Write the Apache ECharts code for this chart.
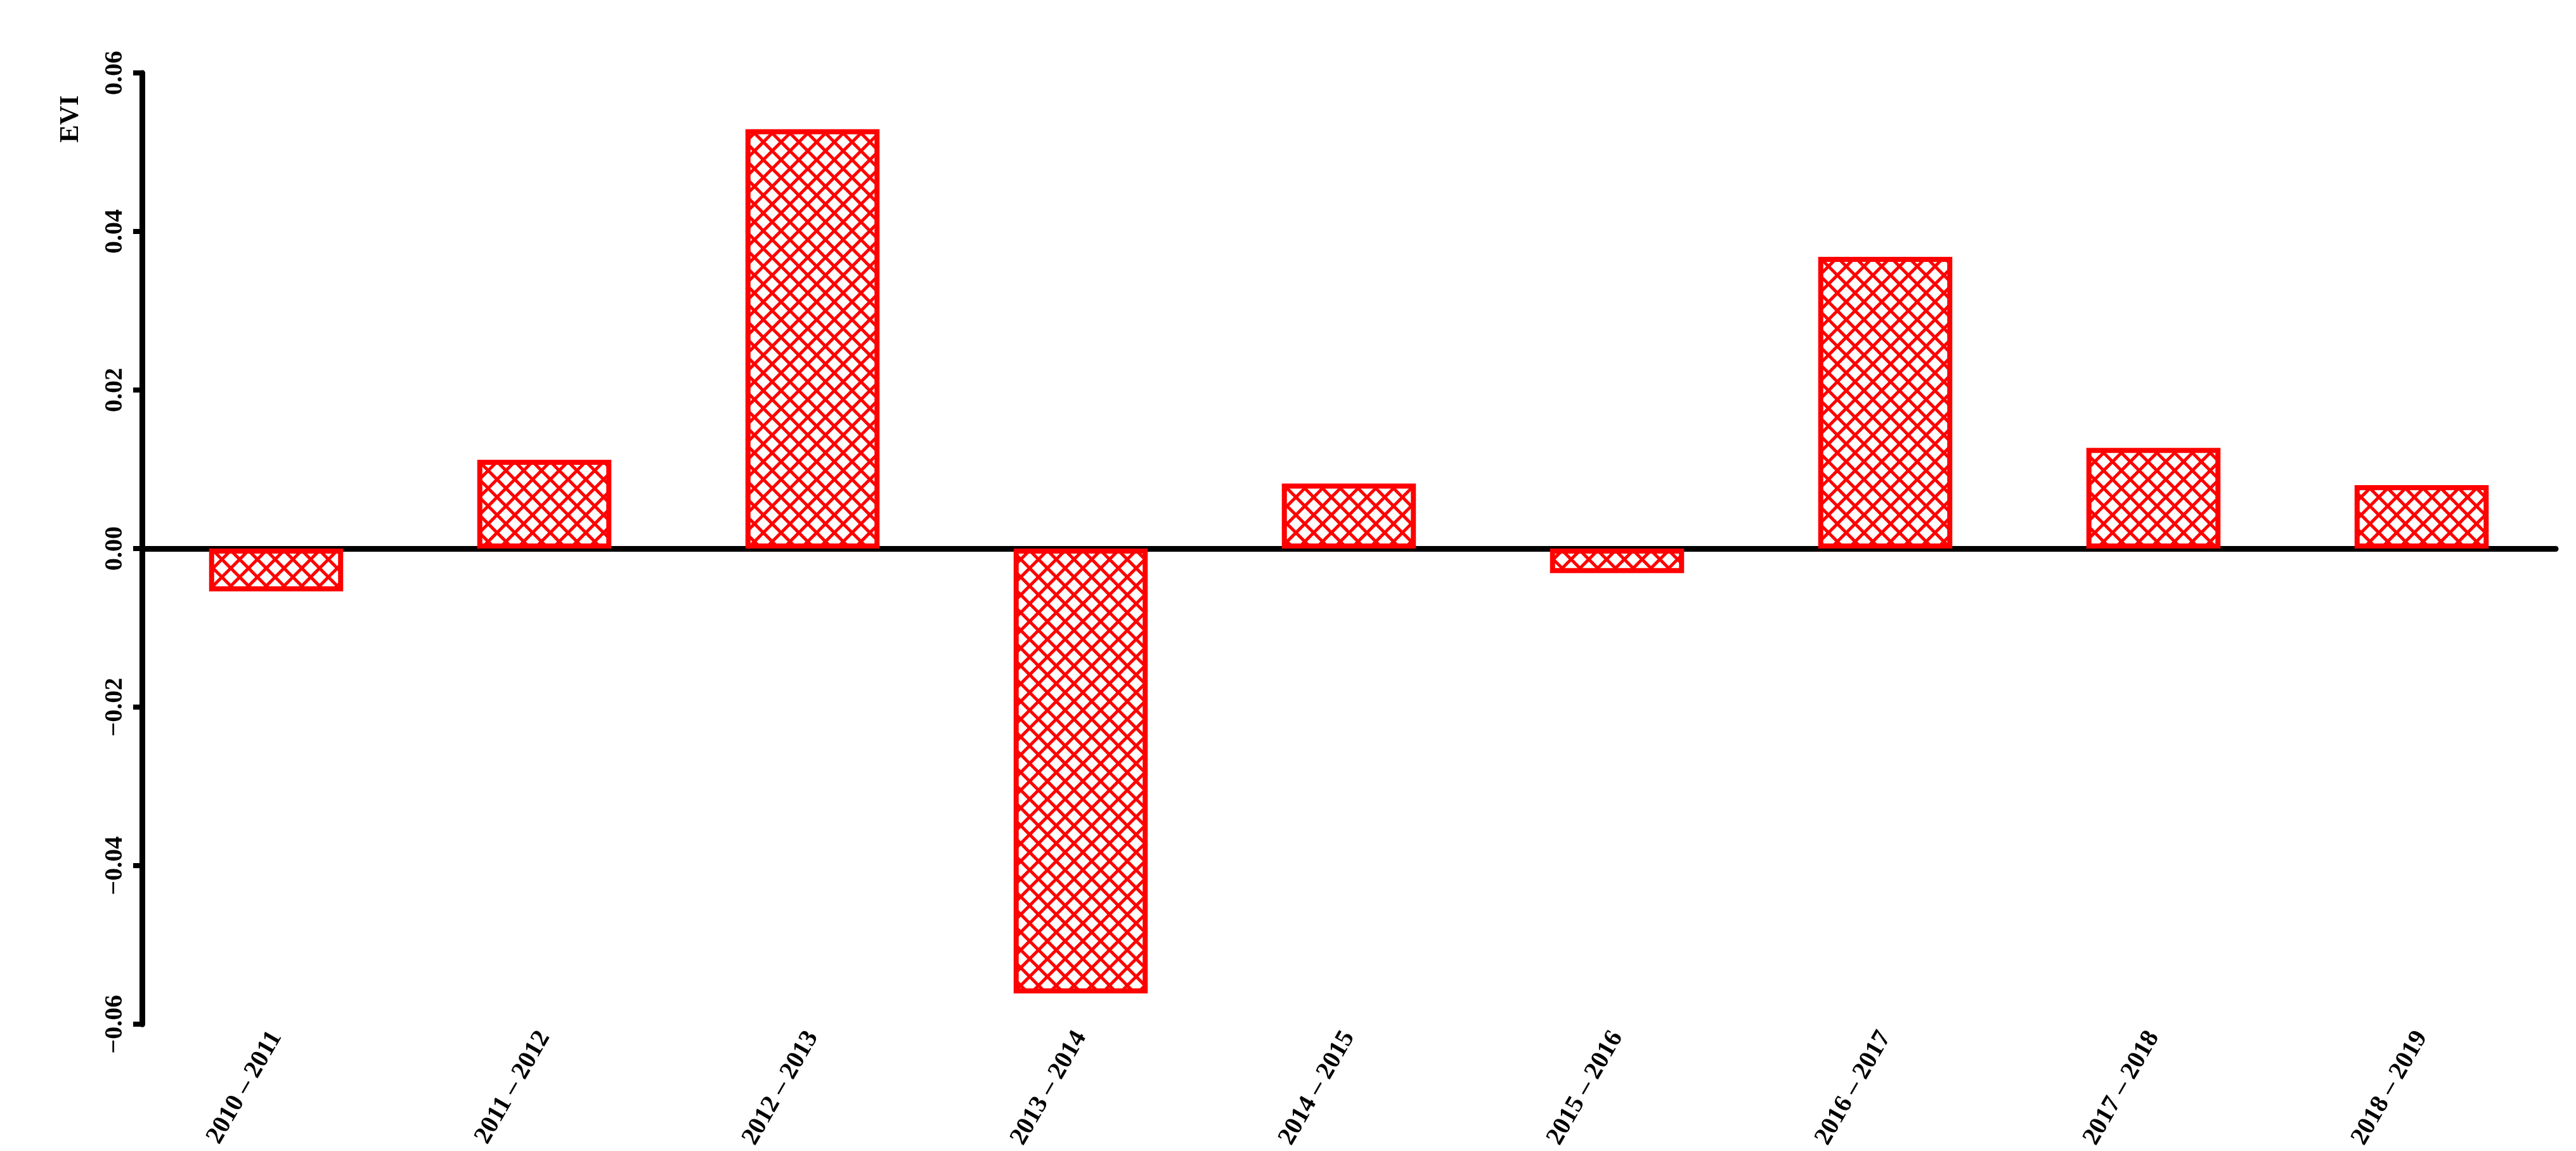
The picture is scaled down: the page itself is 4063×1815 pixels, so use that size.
<!DOCTYPE html>
<html><head><meta charset="utf-8">
<script src="https://cdn.jsdelivr.net/npm/echarts@6/dist/echarts.min.js"></script>
<style>html,body{margin:0;padding:0;background:#fff}#c{width:4063px;height:1815px}</style>
</head><body><div id="c"></div>
<script>
const categories = ['2010 – 2011','2011 – 2012','2012 – 2013','2013 – 2014','2014 – 2015','2015 – 2016','2016 – 2017','2017 – 2018','2018 – 2019'];
const values = [-0.0054, 0.0112, 0.0529, -0.0561, 0.0082, -0.0031, 0.0368, 0.0127, 0.0080];
const yTicks = {min: -0.06, max: 0.06, interval: 0.02};

const pc = document.createElement('canvas');
pc.width = 28; pc.height = 28;
const g = pc.getContext('2d');
g.fillStyle = '#fff'; g.fillRect(0,0,28,28);
g.strokeStyle = '#ff0000'; g.lineWidth = 5;
g.beginPath();
for (let k=-1;k<=1;k++){ g.moveTo(k*28,0); g.lineTo(k*28+28,28); g.moveTo(k*28+28,0); g.lineTo(k*28,28); }
g.stroke();

const font = '"Liberation Serif", "Times New Roman", serif';
const chart = echarts.init(document.getElementById('c'));
chart.setOption({
  animation:false,
  backgroundColor:'#fff',
  grid:{left:224,right:32,top:115,bottom:101},
  xAxis:{type:'category',data:categories,
    axisLine:{onZero:true,lineStyle:{color:'#000',width:9}},
    axisTick:{show:false},
    axisLabel:{rotate:60,color:'#000',fontFamily:font,fontWeight:'bold',fontSize:40,margin:14}},
  yAxis:{type:'value',min:yTicks.min,max:yTicks.max,interval:yTicks.interval,
    splitLine:{show:false},
    axisLine:{show:true,lineStyle:{color:'#000',width:9}},
    axisTick:{show:true,length:14,lineStyle:{width:8,color:'#000'}},
    axisLabel:{rotate:90,color:'#000',fontFamily:font,fontWeight:'bold',fontSize:40,margin:22,
      formatter:v=>v.toFixed(2).replace('-','−')}},
  graphic:[{type:'text',x:112,y:225,rotation:Math.PI/2,
    style:{text:'EVI',font:'bold 42px '+font,fill:'#000',textAlign:'left',textVerticalAlign:'middle'}}],
  series:[{type:'bar',data:values,barWidth:'50%',
    itemStyle:{color:{image:pc,repeat:'repeat'},borderColor:'#ff0000',borderWidth:8}}]
});
</script></body></html>
